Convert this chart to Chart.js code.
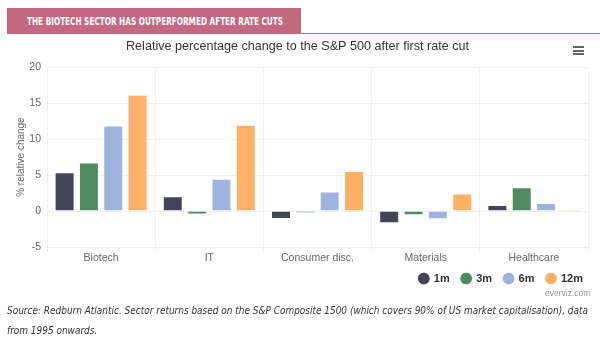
<!DOCTYPE html>
<html>
<head>
<meta charset="utf-8">
<script src="https://cdn.jsdelivr.net/npm/chart.js@4/dist/chart.umd.min.js"></script>
<style>
  html, body { margin: 0; padding: 0; background: #fff; }
  body { width: 600px; height: 347px; position: relative; overflow: hidden; font-family: "Liberation Sans", Arial, sans-serif; }
  #banner { position: absolute; left: 7px; top: 8px; width: 294px; height: 26px; background: #c2687f; }
  #banner span { position: absolute; left: 20px; top: 0; line-height: 26px; white-space: nowrap; color: #fff;
                 font-family: "DejaVu Sans Condensed", "DejaVu Sans", sans-serif; font-weight: bold; font-size: 10.5px;
                 transform-origin: 0 50%; }
  #rule { position: absolute; left: 7px; top: 33px; width: 593px; height: 1px; background: #c2687f; }
  #wrap { position: absolute; left: 0; top: 36px; width: 600px; height: 258px; }
  #menu { position: absolute; left: 573px; top: 46px; width: 11px; }
  #menu div { height: 2px; background: #666; margin-bottom: 1.5px; }
  #credit { position: absolute; left: 545px; top: 288px; font-size: 8.5px; color: #999; }
  .src { position: absolute; left: 7px; white-space: nowrap; transform-origin: 0 50%;
         font-family: "DejaVu Sans Condensed", "DejaVu Sans", sans-serif; font-style: italic; font-size: 11px;
         line-height: 20px; color: #333; }
</style>
</head>
<body>
<div id="banner"><span id="bannerText">THE BIOTECH SECTOR HAS OUTPERFORMED AFTER RATE CUTS</span></div>
<div id="rule"></div>
<div id="wrap"><canvas id="chart" width="600" height="258"></canvas></div>
<div id="menu"><div></div><div></div><div></div></div>
<div id="credit">everviz.com</div>
<div class="src" id="src1" style="top:301px">Source: Redburn Atlantic. Sector returns based on the S&amp;P Composite 1500 (which covers 90% of US market capitalisation), data</div>
<div class="src" id="src2" style="top:321px">from 1995 onwards.</div>
<script>
// Sectors and relative returns (% vs S&P 500) after the first rate cut
const sectors = ["Biotech", "IT", "Consumer disc.", "Materials", "Healthcare"];
const oneMonth = [5.4, 2.05, -1.1, -1.7, 0.85];
const threeMonth = [6.75, -0.5, -0.25, -0.6, 3.3];
const sixMonth = [11.9, 4.5, 2.7, -1.15, 1.1];
const twelveMonth = [16.15, 12.0, 5.55, 2.45, 0.2];
const yTicks = [-5, 0, 5, 10, 15, 20];

const seriesColors = { "1m": "#43445a", "3m": "#4f8b5f", "6m": "#9fb4dc", "12m": "#ffb067" };

// Condense the banner and source lines to their column widths
function squeeze(el, target) {
  const w = el.getBoundingClientRect().width;
  const s = target / w;
  el.style.transform = "scaleX(" + s + ")";
  return s;
}
squeeze(document.getElementById("bannerText"), 256);
const srcScale = squeeze(document.getElementById("src1"), 581);
document.getElementById("src2").style.transform = "scaleX(" + srcScale + ")";

function series(label, data) {
  return {
    label, data,
    backgroundColor: seriesColors[label],
    borderColor: "#ffffff",
    borderWidth: 1,
    categoryPercentage: 0.9,
    barPercentage: 0.82
  };
}

const font = "'Liberation Sans', Arial, sans-serif";

new Chart(document.getElementById("chart"), {
  type: "bar",
  data: {
    labels: sectors,
    datasets: [
      series("1m", oneMonth),
      series("3m", threeMonth),
      series("6m", sixMonth),
      series("12m", twelveMonth)
    ]
  },
  options: {
    responsive: false,
    animation: false,
    layout: { padding: { left: 0, right: 5, top: 0, bottom: 0 } },
    plugins: {
      title: {
        display: true,
        text: "Relative percentage change to the S&P 500 after first rate cut",
        color: "#333333",
        font: { family: font, size: 12.6, weight: "normal" },
        padding: { top: 3, bottom: 13 }
      },
      legend: {
        position: "bottom",
        align: "end",
        labels: {
          usePointStyle: true,
          pointStyle: "circle",
          boxWidth: 9,
          boxHeight: 9,
          padding: 12,
          color: "#333333",
          font: { family: font, size: 11, weight: "bold" }
        }
      },
      tooltip: { enabled: false }
    },
    scales: {
      x: {
        afterFit: (scale) => { scale.height = 14; },
        grid: { color: "#f0f0f0", offset: true, drawTicks: true, tickLength: 5 },
        border: { display: false },
        ticks: { color: "#666666", font: { family: font, size: 10.5 }, padding: 0 }
      },
      y: {
        min: -5,
        max: 20,
        afterBuildTicks: (scale) => { scale.ticks = yTicks.map(v => ({ value: v })); },
        afterFit: (scale) => { scale.width = 47; },
        grid: { color: "#f0f0f0", drawTicks: false },
        border: { display: false },
        ticks: { color: "#666666", font: { family: font, size: 10.5 }, padding: 6 },
        title: {
          display: true,
          text: "% relative change",
          color: "#666666",
          font: { family: font, size: 10 },
          padding: { top: 15, bottom: 0 }
        }
      },
      // empty right-hand margin axis
      yRight: {
        position: "right",
        display: true,
        min: -5,
        max: 20,
        afterFit: (scale) => { scale.width = 7; },
        grid: { display: false },
        border: { display: false },
        ticks: { display: false }
      }
    }
  }
});
</script>
</body>
</html>
